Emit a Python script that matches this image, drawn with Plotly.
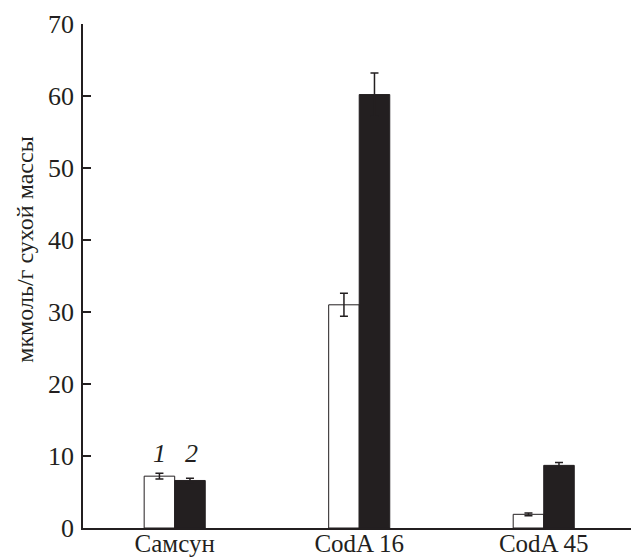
import plotly.graph_objects as go

# Data
categories = ["Самсун", "CodA 16", "CodA 45"]
series1_values = [7.2, 31.0, 1.9]
series1_errors = [0.4, 1.6, 0.2]
series2_values = [6.6, 60.2, 8.7]
series2_errors = [0.3, 3.0, 0.4]
series_labels = ["1", "2"]
y_ticks = [0, 10, 20, 30, 40, 50, 60, 70]
y_title = "мкмоль/г сухой массы"

DARK = "#231f20"
FONT = "Liberation Serif"

fig = go.Figure()
fig.add_trace(go.Bar(
    x=categories, y=series1_values, name=series_labels[0],
    marker=dict(color="white", line=dict(color=DARK, width=1)),
    error_y=dict(type="data", array=series1_errors, visible=True,
                 color=DARK, thickness=1.5, width=4),
))
fig.add_trace(go.Bar(
    x=categories, y=series2_values, name=series_labels[1],
    marker=dict(color=DARK, line=dict(color=DARK, width=1)),
    error_y=dict(type="data", array=series2_errors, visible=True,
                 color=DARK, thickness=1.5, width=4),
))

# Series numbers above the first group
for lbl, shift in zip(series_labels, [-15, 17]):
    fig.add_annotation(
        x=categories[0], y=10.3, text=lbl, showarrow=False,
        xshift=shift, font=dict(family=FONT, size=26, color=DARK, style="italic"),
    )

# Y axis title
fig.add_annotation(
    xref="paper", yref="paper", x=-0.105, y=0.553, text=y_title,
    textangle=-90, showarrow=False, xanchor="center", yanchor="middle",
    font=dict(family=FONT, size=24, color=DARK),
)

fig.update_layout(
    width=631, height=559,
    margin=dict(l=83, r=0, t=24, b=31),
    plot_bgcolor="white", paper_bgcolor="white",
    barmode="group", bargap=0.669, bargroupgap=0,
    showlegend=False,
    font=dict(family=FONT, size=26, color=DARK),
)
fig.update_xaxes(
    range=[-0.497, 2.473], showline=True, linecolor=DARK, linewidth=1.5,
    ticks="", showgrid=False, zeroline=False, automargin=False,
    ticklabelstandoff=-8,
    tickfont=dict(family=FONT, size=25, color=DARK),
)
fig.update_yaxes(
    range=[0, 70], tickvals=y_ticks, showline=True, linecolor=DARK, linewidth=1.5,
    ticks="inside", ticklen=8, tickwidth=1.5, tickcolor=DARK,
    showgrid=False, zeroline=False, ticklabelstandoff=2, automargin=False,
    tickfont=dict(family=FONT, size=26, color=DARK),
)

fig.write_html("out.html")
